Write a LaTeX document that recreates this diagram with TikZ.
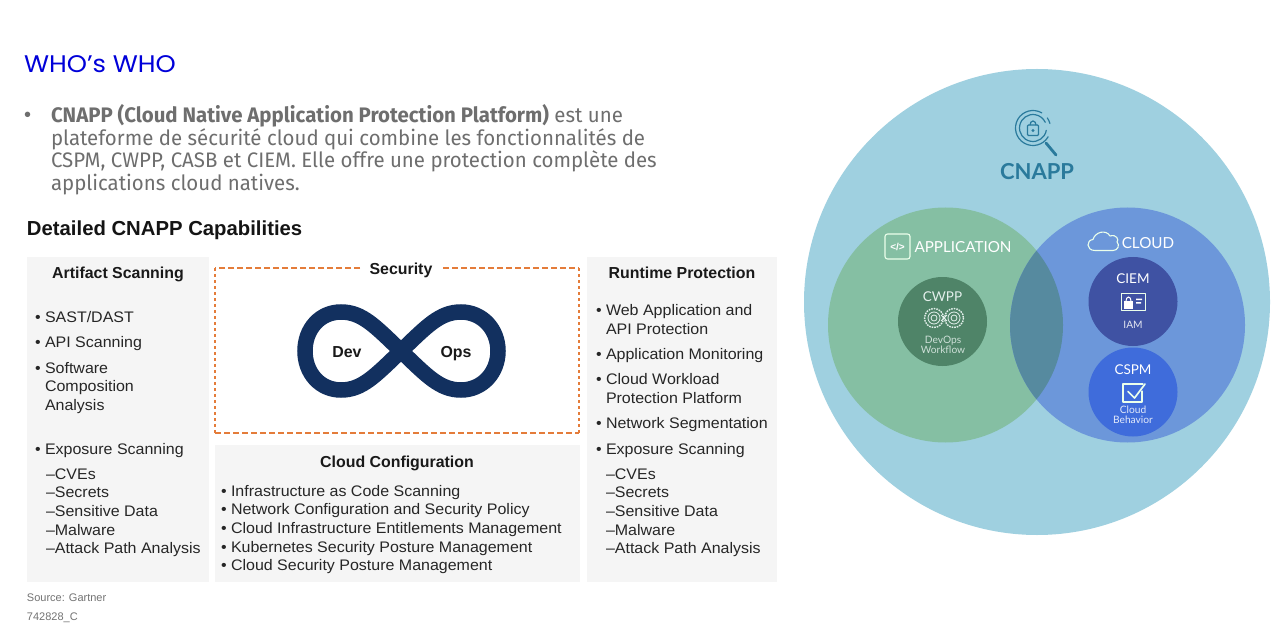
\documentclass[tikz,border=0pt]{standalone}
\usepackage{fontspec}
\setmainfont{Liberation Sans}
\newfontfamily\headf[FakeStretch=1.07]{Poppins}
\newfontfamily\bodyf[FakeStretch=0.973]{Fira Sans}
\newfontfamily\latof{Lato}
\newfontfamily\itemf[FakeStretch=1.045]{Liberation Sans}
\definecolor{cnappbg}{HTML}{9FD0E0}
\definecolor{appbg}{HTML}{85BFA3}
\definecolor{cloudbg}{HTML}{6C97DA}
\definecolor{lensbg}{HTML}{568A9F}
\definecolor{cwppbg}{HTML}{4F8468}
\definecolor{ciembg}{HTML}{3F52A3}
\definecolor{cspmbg}{HTML}{3F6CDB}
\definecolor{panelbg}{HTML}{F5F5F5}
\definecolor{tealtx}{HTML}{2A7A9C}
\definecolor{bodygr}{HTML}{6E6E6E}
\definecolor{orangedash}{HTML}{E47C3A}
\definecolor{navyloop}{HTML}{12305F}
\definecolor{lighttx}{HTML}{E4F0EC}
\tikzset{
  x=1pt,y=-1pt,
  every node/.style={inner sep=0pt,outer sep=0pt},
  para/.style={anchor=base west,font=\bodyf\fontsize{21}{21}\selectfont,text=bodygr},
  item/.style={anchor=base west,font=\itemf\fontsize{15.3}{15.3}\selectfont,text=black!85},
  head/.style={anchor=base,font=\bfseries\fontsize{15.9}{15.9}\selectfont,text=black!90},
  panel/.style={fill=panelbg,draw=none},
  whiteicon/.style={draw=white!92!green,line width=1.1pt,line join=round,line cap=round},
  vennlab/.style={anchor=base,font=\latof\selectfont,text=white},
  tiny/.style={anchor=base,font=\latof\fontsize{10.2}{10.2}\selectfont},
  small/.style={anchor=base west,font=\fontsize{11}{11}\selectfont,text=black!55},
  hdash/.style={orangedash,line width=2pt,dash pattern=on 6pt off 3pt},
  vdash/.style={orangedash,line width=2pt,dash pattern=on 3pt off 3pt}
}
\begin{document}
\begin{tikzpicture}
\useasboundingbox (0,0) rectangle (1280,631);
\fill[white] (0,0) rectangle (1280,631);
% title and paragraph
\node[anchor=base west,font=\headf\fontsize{24}{24}\selectfont,text=blue!85!black] (title) at (24,73) {WHO’s WHO};
\node[anchor=base west,font=\fontsize{20}{20}\selectfont,text=bodygr] (bullet) at (24,122) {•};
\node[para] (p1) at (51,122.5) {\textbf{CNAPP (Cloud Native Application Protection Platform)} est une};
\node[para] (p2) at (51,145.5) {plateforme de sécurité cloud qui combine les fonctionnalités de};
\node[para] (p3) at (51,168) {CSPM, CWPP, CASB et CIEM. Elle offre une protection complète des};
\node[para] (p4) at (51,191) {applications cloud natives.};
\node[anchor=base west,font=\bfseries\fontsize{20.3}{20.3}\selectfont,text=black!92] (dtitle) at (27,236) {Detailed CNAPP Capabilities};
% panels
\fill[panel] (27,257) rectangle (209,582);
\fill[panel] (215,445) rectangle (580,582);
\fill[panel] (587,257) rectangle (777,582);
% security box
\draw[hdash] (360,268) -- (215,268);
\draw[hdash] (443,268) -- (579,268);
\draw[hdash] (215,433) -- (579,433);
\draw[vdash] (215,268) -- (215,433);
\draw[vdash] (579,268) -- (579,433);
\node[head] (sec) at (401,274.5) {Security};
% infinity
\draw[navyloop,line width=15.5pt] (401,351) .. controls (375,326) and (362,312) .. (341,312)
  .. controls (320,312) and (305,329) .. (305,351) .. controls (305,373) and (320,390) .. (341,390)
  .. controls (362,390) and (375,376) .. (401,351) .. controls (427,326) and (440,312) .. (461,312)
  .. controls (482,312) and (498,329) .. (498,351) .. controls (498,373) and (482,390) .. (461,390)
  .. controls (440,390) and (427,376) .. (401,351) -- cycle;
\node[head] (dev) at (347,357) {Dev};
\node[head] (ops) at (456,357) {Ops};
% left panel
\node[head] (hl) at (118,278) {Artifact Scanning};
\foreach \i/\yy/\t in {1/322/{• SAST/DAST},2/347.5/{• API Scanning},3/373/{• Software},5/454/{• Exposure Scanning}}
  \node[item] (la\i) at (35,\yy) {\t};
\node[item] (la3b) at (45,391.5) {Composition};
\node[item] (la3c) at (45,410) {Analysis};
\foreach \i/\yy/\t in {1/479/{–CVEs},2/497.5/{–Secrets},3/516/{–Sensitive Data},4/535/{–Malware},5/553.5/{–Attack Path Analysis}}
  \node[item] (ls\i) at (46,\yy) {\t};
% middle panel
\node[head] (hm) at (397,467) {Cloud Configuration};
\foreach \i/\yy/\t in {1/496/{• Infrastructure as Code Scanning},2/514.5/{• Network Configuration and Security Policy},3/533/{• Cloud Infrastructure Entitlements Management},4/552/{• Kubernetes Security Posture Management},5/570.5/{• Cloud Security Posture Management}}
  \node[item] (m\i) at (221,\yy) {\t};
% right panel
\node[head] (hr) at (682,278) {Runtime Protection};
\foreach \i/\yy/\t in {1/315.5/{• Web Application and},2/359/{• Application Monitoring},3/384.5/{• Cloud Workload},4/428/{• Network Segmentation},5/454/{• Exposure Scanning}}
  \node[item] (ra\i) at (596,\yy) {\t};
\node[item] (ra1b) at (606,334) {API Protection};
\node[item] (ra3b) at (606,403) {Protection Platform};
\foreach \i/\yy/\t in {1/479/{–CVEs},2/497.5/{–Secrets},3/516/{–Sensitive Data},4/535/{–Malware},5/553.5/{–Attack Path Analysis}}
  \node[item] (rs\i) at (606,\yy) {\t};
% source
\node[small] (src) at (27,601.5) {Source: Gartner};
\node[small] (code) at (27,620) {742828\_C};
% venn
\fill[cnappbg] (1037,302) circle (233);
\fill[appbg] (945.5,325) circle (117.5);
\fill[cloudbg] (1127.5,325) circle (117.5);
\begin{scope}
\clip (945.5,325) circle (117.5);
\fill[lensbg] (1127.5,325) circle (117.5);
\end{scope}
\fill[cwppbg] (942.5,321.5) circle (44.5);
\fill[ciembg] (1133,301.5) circle (44.5);
\fill[cspmbg] (1133,392) circle (44.5);
% CNAPP icon
\begin{scope}[tealtx,line cap=round]
\draw[line width=1.2pt] (1033,128) ++(30:17.5) arc (30:300:17.5);
\draw[line width=1.2pt] (1033,128) ++(345:17.5) arc (345:325:17.5);
\draw[line width=1.2pt] (1033,128) ++(10:13.5) arc (10:335:13.5);
\draw[line width=2.8pt] (1046,143) -- (1056,155);
\draw[line width=1.2pt,rounded corners=1pt] (1027.5,125) rectangle (1038.5,135.5);
\draw[line width=1.2pt] (1030,125) arc (180:360:3 and 4);
\fill (1033,130.5) circle (1.7);
\end{scope}
\node[anchor=base,font=\latof\bfseries\fontsize{22}{22}\selectfont,text=tealtx] (cnapp) at (1037,180) {CNAPP};
% application label
\draw[whiteicon,rounded corners=2.5pt] (885,234) rectangle (910,259);
\node[anchor=center,font=\bfseries\fontsize{10}{10}\selectfont,text=white] (codeic) at (897.5,247) {</>};
\node[vennlab,font=\latof\fontsize{15.2}{15.2}\selectfont] (app) at (963,252) {APPLICATION};
% cloud label
\draw[whiteicon] (1095,250.5) .. controls (1086,250.5) and (1086,240) .. (1093,239.5)
 .. controls (1095,232) and (1106,229) .. (1110,236) .. controls (1117,234) and (1119,240) .. (1117,242)
 .. controls (1120,245) and (1118,250.5) .. (1113,250.5) -- cycle;
\node[vennlab,font=\latof\fontsize{15.2}{15.2}\selectfont] (cloud) at (1148,248) {CLOUD};
% CWPP
\node[vennlab,font=\latof\fontsize{13.5}{13.5}\selectfont,text=lighttx] (cwpp) at (942.5,301) {CWPP};
\begin{scope}[draw=lighttx,line width=.8pt]
\foreach \c in {934,954}{
  \draw[line width=1.4pt,dash pattern=on 1.6pt off 1pt] (\c,318) circle (9.5);
  \draw (\c,318) circle (6);
  \draw (\c,318) circle (3);
}
\draw (941,315) -- (947,321) (941,321) -- (947,315);
\end{scope}
\node[tiny,text=lighttx!85!cwppbg] (dw1) at (943,343) {DevOps};
\node[tiny,text=lighttx!85!cwppbg] (dw2) at (943,353) {Workflow};
% CIEM
\node[vennlab,font=\latof\fontsize{13.5}{13.5}\selectfont] (ciem) at (1133,283.5) {CIEM};
\draw[whiteicon,line width=.9pt] (1121.5,293.5) rectangle (1145.5,310.5);
\fill[white] (1124,301) rectangle (1133,308.5);
\draw[white,line width=1pt] (1126,301) arc (180:360:2.5 and 4);
\fill[white] (1136,298.5) rectangle (1142,300.2) (1136,302) rectangle (1141,303.7);
\node[tiny,text=white!85!ciembg] (iam) at (1133,328) {IAM};
% CSPM
\node[vennlab,font=\latof\fontsize{13.5}{13.5}\selectfont] (cspm) at (1133,374.5) {CSPM};
\draw[whiteicon] (1143,384) -- (1123,384) -- (1123,402) -- (1142,402) -- (1142,391);
\draw[whiteicon,line width=1.7pt] (1128,391.5) -- (1134.5,398) -- (1145,384);
\node[tiny,text=white!85!cspmbg] (cb1) at (1133,413.5) {Cloud};
\node[tiny,text=white!85!cspmbg] (cb2) at (1133,423.5) {Behavior};
\end{tikzpicture}
\end{document}
